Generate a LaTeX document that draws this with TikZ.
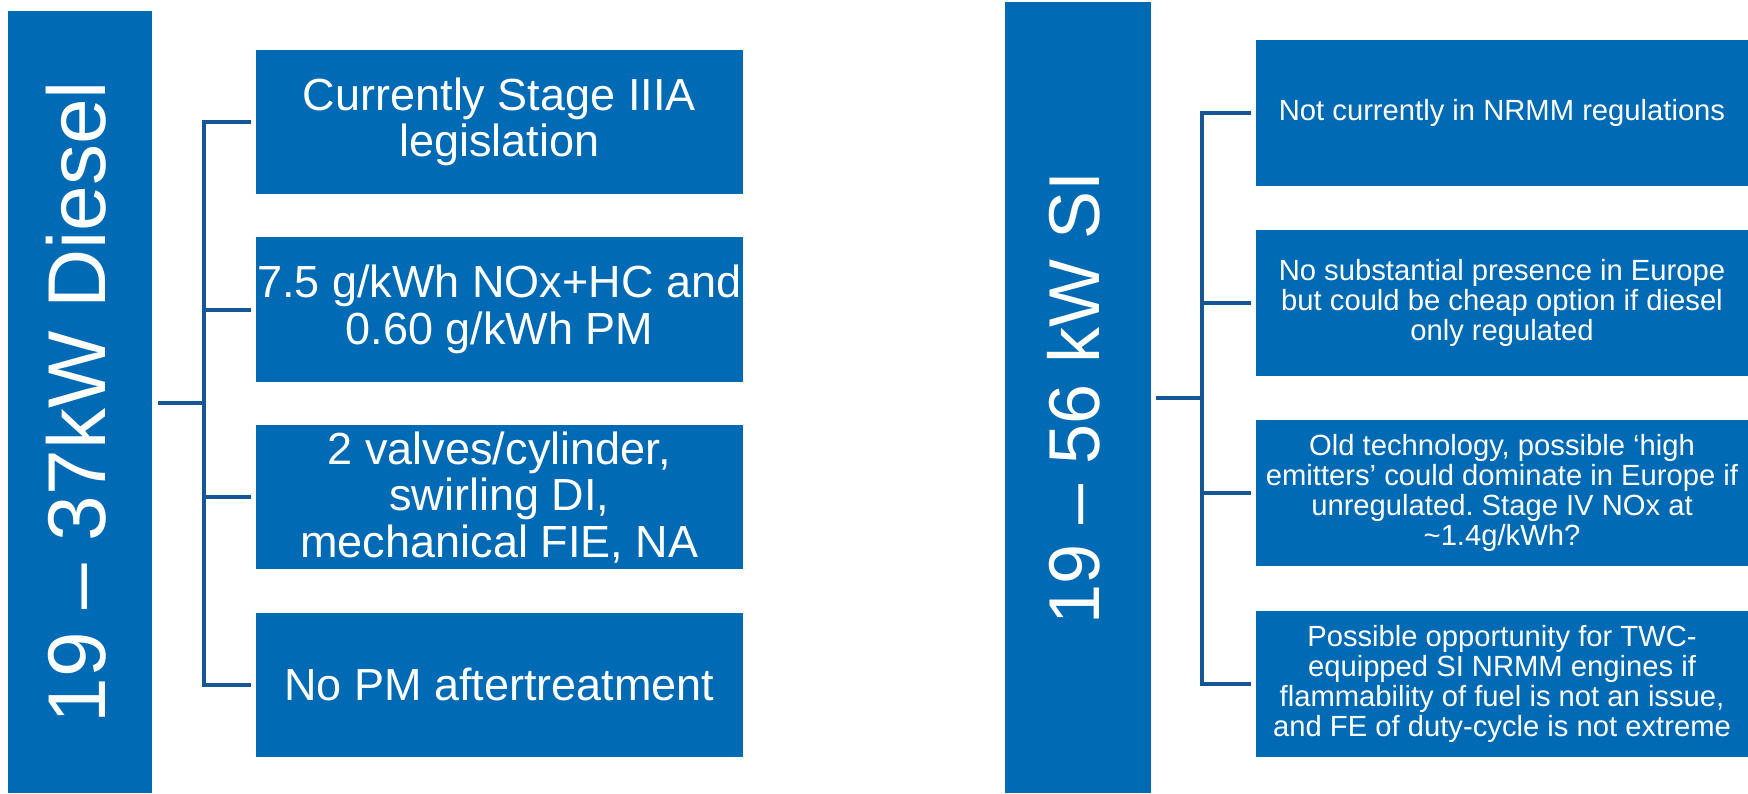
\documentclass[tikz,border=0pt]{standalone}
\usepackage{fontspec}
\setmainfont{Liberation Sans}
\frenchspacing
\definecolor{boxblue}{RGB}{0,106,180}
\definecolor{lineblue}{RGB}{22,86,150}
\tikzset{
  mainbox/.style={rectangle, fill=boxblue, draw=none, inner sep=0pt},
  lbox/.style={rectangle, fill=boxblue, draw=none, inner sep=0pt, text=white, align=center,
    minimum width=243.3pt, minimum height=72.25pt,
    font=\fontsize{22.5pt}{23.25pt}\selectfont},
  rbox/.style={rectangle, fill=boxblue, draw=none, inner sep=0pt, text=white, align=center,
    minimum width=246pt, minimum height=73pt,
    font=\fontsize{14.6pt}{15pt}\selectfont},
  vtext/.style={text=white, rotate=90, inner sep=0pt},
  conn/.style={draw=lineblue, line width=2pt, line join=miter}
}
\begin{document}
\begin{tikzpicture}[x=0.5pt, y=-0.5pt]
\useasboundingbox (0,0) rectangle (1748,793);
% left group
\node[mainbox, minimum width=72.25pt, minimum height=391pt] (Lmain) at (79.75,402) {};
\node[vtext, font=\fontsize{41pt}{43pt}\selectfont] (Ltitle) at (76,402) {19 – 37kW Diesel};
\node[lbox] (L1) at (499.3,121.9) {Currently Stage IIIA\\legislation};
\node[lbox] (L2) at (499.3,309.5) {7.5 g/kWh NOx+HC and\\0.60 g/kWh PM};
\node[lbox] (L3) at (499.3,497.2) {2 valves/cylinder,\\swirling DI,\\mechanical FIE, NA};
\node[lbox] (L4) at (499.3,684.8) {No PM aftertreatment};
\coordinate (jL) at (203.6,403);
\draw[conn] ([xshift=3pt]Lmain.east |- jL) -- (jL);
\draw[conn] ([xshift=-2.5pt]L1.west) -| (jL) |- ([xshift=-2.5pt]L4.west);
\draw[conn] (jL |- L2.west) -- ([xshift=-2.5pt]L2.west);
\draw[conn] (jL |- L3.west) -- ([xshift=-2.5pt]L3.west);
% right group
\node[mainbox, minimum width=73pt, minimum height=395.75pt] (Rmain) at (1077.5,397.25) {};
\node[vtext, font=\fontsize{36pt}{38pt}\selectfont] (Rtitle) at (1074,398) {19 – 56 kW SI};
\node[rbox] (R1) at (1502,113) {Not currently in NRMM regulations};
\node[rbox] (R2) at (1502,303) {No substantial presence in Europe\\but could be cheap option if diesel\\only regulated};
\node[rbox] (R3) at (1502,493) {Old technology, possible ‘high\\emitters’ could dominate in Europe if\\unregulated. Stage IV NOx at\\\textasciitilde1.4g/kWh?};
\node[rbox] (R4) at (1502,683.75) {Possible opportunity for TWC-\\equipped SI NRMM engines if\\flammability of fuel is not an issue,\\and FE of duty-cycle is not extreme};
\coordinate (jR) at (1202,398);
\draw[conn] ([xshift=2.75pt]Rmain.east |- jR) -- (jR);
\draw[conn] ([xshift=-2.5pt]R1.west) -| (jR) |- ([xshift=-2.5pt]R4.west);
\draw[conn] (jR |- R2.west) -- ([xshift=-2.5pt]R2.west);
\draw[conn] (jR |- R3.west) -- ([xshift=-2.5pt]R3.west);
\end{tikzpicture}
\end{document}
